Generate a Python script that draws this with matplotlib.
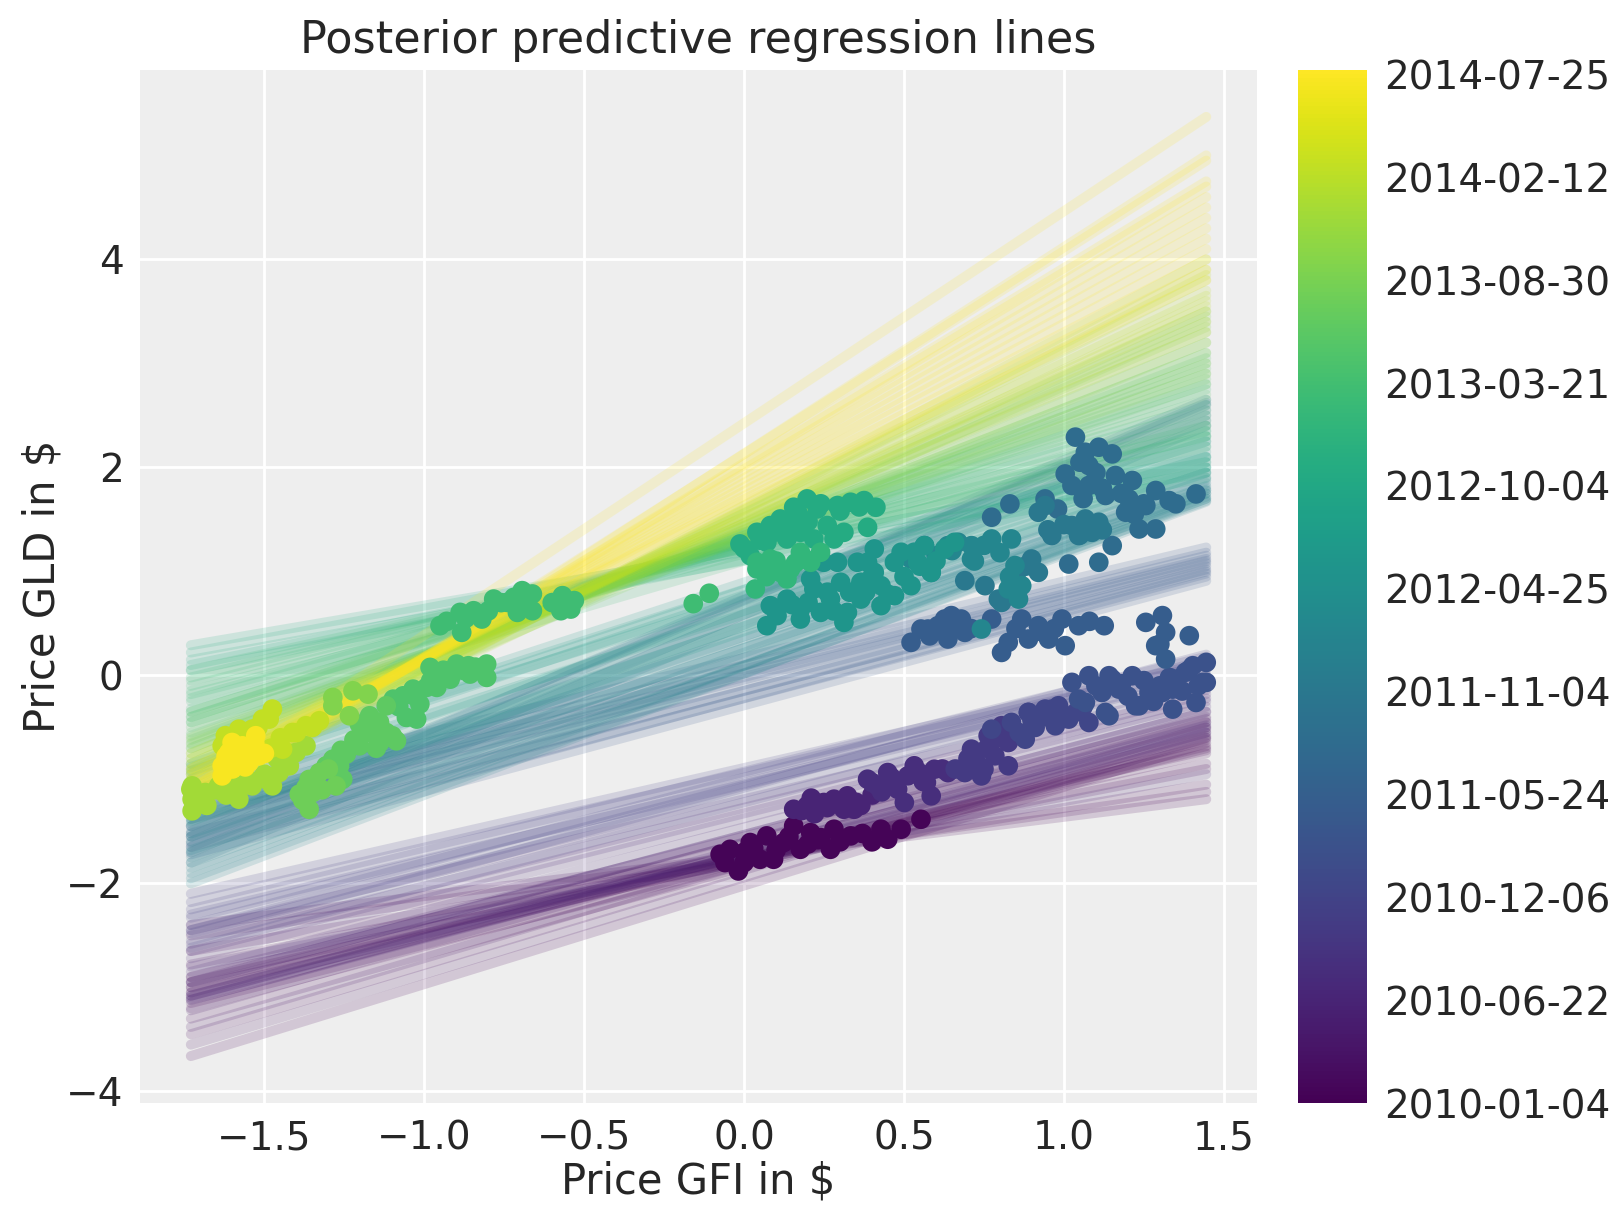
import matplotlib
matplotlib.use("Agg")
import matplotlib.pyplot as plt
import numpy as np

# scatter of the z-scored prices, grouped by stretch of time
# (when = position of the stretch between the first and last date, 0..1)
when = [0.01, 0.10, 0.13, 0.17, 0.21, 0.25, 0.29, 0.35, 0.40, 0.46, 0.52,
        0.61, 0.66, 0.69, 0.72, 0.75, 0.78, 0.81, 0.86, 0.91, 0.99]
gfi = [
    [-0.075, -0.018, -0.044, 0.019, 0.050, 0.092, 0.071, 0.124, 0.176, 0.208, 0.270, 0.281,
     0.155, 0.333, 0.428, 0.449, 0.553, 0.491, 0.000, 0.240,
     -0.06, 0.00, 0.03, 0.10, 0.14, 0.20, 0.23, 0.30, 0.37, 0.40],
    [0.155, 0.197, 0.249, 0.281, 0.323, 0.344, 0.312, 0.220, 0.365,
     0.18, 0.26, 0.30, 0.35, 0.40, 0.21],
    [0.386, 0.417, 0.449, 0.480, 0.512, 0.532, 0.585, 0.501, 0.595, 0.637, 0.560,
     0.40, 0.46, 0.55, 0.62, 0.57, 0.43],
    [0.690, 0.711, 0.742, 0.763, 0.784, 0.805, 0.826, 0.826, 0.660,
     0.70, 0.73, 0.76, 0.79, 0.81, 0.75, 0.72],
    [0.879, 0.889, 0.931, 0.973, 1.015, 1.078, 0.962, 0.774, 0.836, 0.889, 0.941, 0.983,
     0.86, 0.91, 0.95, 1.00, 1.04, 1.06, 0.90],
    [1.025, 1.067, 1.119, 1.151, 1.141, 1.214, 1.224, 1.266, 1.340, 1.350, 1.413, 1.445,
     1.434, 1.308, 1.078, 1.141, 1.172, 1.046, 1.403, 1.445, 1.340, 1.235, 1.130, 1.380,
     1.10, 1.18, 1.25, 1.30, 1.37, 1.42, 1.20, 1.28, 1.33, 1.39],
    [0.522, 0.553, 0.606, 0.648, 0.679, 0.637, 0.690, 0.774, 0.805, 0.826, 0.868, 0.889,
     0.920, 0.952, 0.994, 1.004, 1.046, 1.126, 1.256, 1.308, 1.318, 1.392, 1.287, 1.318,
     0.575, 0.627, 0.58, 0.66, 0.71, 0.85, 0.93, 0.97, 1.08, 1.30],
    [1.036, 1.067, 1.109, 1.151, 1.078, 1.004, 1.025, 1.078, 1.161, 1.214, 1.130, 1.203,
     1.287, 1.329, 1.413, 1.256, 1.287, 1.235, 1.193, 1.151, 1.109, 1.015, 0.831, 0.774,
     0.941, 1.05, 1.10, 1.12, 1.18, 1.25, 1.35, 1.22, 1.06, 0.98],
    [0.941, 0.920, 0.962, 1.025, 1.067, 1.109, 1.088, 1.046, 0.690, 0.753, 0.795, 0.805,
     0.899, 0.920, 0.95, 1.00, 1.05, 1.12, 0.85, 0.88],
    [0.564, 0.585, 0.522, 0.637, 0.669, 0.711, 0.711, 0.774, 0.836, 0.847, 0.826, 0.868,
     0.858, 0.742, 0.60, 0.65, 0.75, 0.80, 0.72, 0.83],
    [0.082, 0.103, 0.071, 0.134, 0.176, 0.176, 0.218, 0.239, 0.270, 0.302, 0.312, 0.323,
     0.365, 0.365, 0.407, 0.386, 0.428, 0.428, 0.470, 0.470, 0.292, 0.249, 0.208, 0.522,
     0.491, 0.532, 0.564, 0.585, 0.543, 0.627, 0.658, 0.354, 0.407,
     0.10, 0.15, 0.20, 0.26, 0.33, 0.38, 0.45, 0.50, 0.55, 0.60, 0.28, 0.40],
    [-0.013, 0.040, 0.082, 0.113, 0.155, 0.197, 0.229, 0.176, 0.134, 0.071, 0.019, 0.218,
     0.260, 0.292, 0.333, 0.375, 0.412, 0.386, 0.312, 0.281,
     0.00, 0.05, 0.10, 0.17, 0.24, 0.30, 0.36, 0.20, 0.14],
    [0.040, 0.082, 0.113, 0.145, 0.176, 0.208, 0.040, 0.035, 0.239, 0.134,
     0.06, 0.10, 0.16, 0.19, 0.07, 0.12],
    [-0.159, -0.109, -0.951, -0.888, -0.883, -0.846, -0.820, -0.783, -0.741, -0.709, -0.694,
     -0.662, -0.662, -0.568, -0.531, -0.573, -0.542,
     -0.93, -0.87, -0.80, -0.76, -0.72, -0.68, -0.60, -0.55],
    [-0.982, -0.951, -0.899, -0.862, -0.857, -0.805, -0.805, -0.919, -0.961, -0.993, -1.035,
     -1.014, -1.066, -1.097, -1.056, -1.024, -0.94, -0.88, -0.84, -0.98, -1.03, -1.08],
    [-1.119, -1.171, -1.203, -1.160, -1.119, -1.087, -1.139, -1.203, -1.244, -1.286, -1.307,
     -1.265, -1.255, -1.14, -1.18, -1.22, -1.26, -1.10, -1.15],
    [-1.339, -1.370, -1.349, -1.391, -1.276, -1.360, -1.328, -1.30, -1.36, -1.38, -1.32],
    [-1.286, -1.286, -1.223, -1.176, -1.234],
    [-1.475, -1.538, -1.580, -1.580, -1.643, -1.685, -1.726, -1.726, -1.726, -1.730, -1.496,
     -1.443, -1.422, -1.454, -1.401, -1.370,
     -1.70, -1.65, -1.60, -1.55, -1.50, -1.68, -1.62, -1.46],
    [-1.328, -1.370, -1.412, -1.443, -1.506, -1.538, -1.580, -1.622, -1.632, -1.485, -1.475,
     -1.35, -1.40, -1.45, -1.52, -1.57, -1.60, -1.48],
    [-1.559, -1.527, -1.601, -1.611, -1.632, -1.517, -1.548, -1.590, -1.632, -1.569, -1.560,
     -1.58, -1.54, -1.50, -1.56, -1.62, -1.60, -1.53],
]
gld = [
    [-1.720, -1.880, -1.672, -1.607, -1.768, -1.768, -1.543, -1.607, -1.672, -1.511, -1.672,
     -1.479, -1.447, -1.543, -1.479, -1.575, -1.383, -1.479, -1.800, -1.560,
     -1.80, -1.70, -1.66, -1.68, -1.55, -1.62, -1.58, -1.60, -1.52, -1.60],
    [-1.287, -1.254, -1.222, -1.190, -1.158, -1.287, -1.287, -1.330, -1.250,
     -1.30, -1.27, -1.24, -1.22, -1.15, -1.18],
    [-0.998, -1.062, -0.934, -1.094, -0.966, -0.869, -1.158, -1.222, -0.902, -0.934, -1.020,
     -1.03, -0.98, -0.94, -0.90, -1.03, -1.12],
    [-0.934, -0.709, -0.966, -0.580, -0.773, -0.484, -0.869, -0.645, -0.900,
     -0.80, -0.85, -0.70, -0.60, -0.55, -0.90, -0.75],
    [-0.613, -0.356, -0.388, -0.484, -0.420, -0.452, -0.324, -0.517, -0.452, -0.356, -0.324,
     -0.292, -0.55, -0.50, -0.40, -0.38, -0.35, -0.30, -0.43],
    [-0.067, -0.260, -0.164, -0.036, -0.388, -0.003, -0.292, -0.164, -0.324, -0.036, -0.260,
     0.125, -0.067, -0.164, -0.003, -0.003, -0.132, -0.228, 0.093, -0.067, -0.132, -0.292,
     -0.356, 0.030, -0.10, -0.08, -0.05, -0.10, -0.15, -0.10, -0.20, -0.25, -0.02, 0.05],
    [0.318, 0.446, 0.478, 0.575, 0.542, 0.350, 0.414, 0.542, 0.221, 0.318, 0.542, 0.350,
     0.478, 0.350, 0.542, 0.286, 0.478, 0.478, 0.510, 0.575, 0.414, 0.382, 0.286, 0.157,
     0.446, 0.542, 0.38, 0.48, 0.45, 0.45, 0.42, 0.45, 0.52, 0.30],
    [2.291, 2.146, 2.194, 2.130, 2.018, 1.937, 1.826, 1.826, 1.922, 1.874, 1.730, 1.697,
     1.778, 1.681, 1.745, 1.633, 1.408, 1.408, 1.569, 1.248, 1.088, 1.071, 1.649, 1.521,
     1.697, 2.05, 1.95, 1.80, 1.75, 1.65, 1.65, 1.55, 1.70, 1.60],
    [1.633, 1.569, 1.345, 1.441, 1.504, 1.473, 1.376, 1.345, 0.911, 0.863, 0.734, 0.702,
     1.119, 0.991, 1.40, 1.45, 1.35, 1.40, 0.95, 1.05],
    [1.248, 0.991, 1.119, 1.248, 1.280, 1.248, 1.119, 1.312, 1.312, 1.056, 0.831, 0.863,
     0.734, 0.446, 1.15, 1.20, 1.25, 1.18, 1.10, 0.95],
    [0.671, 0.575, 0.478, 0.734, 0.638, 0.542, 0.831, 0.606, 0.734, 0.895, 0.510, 0.606,
     0.734, 0.895, 0.991, 1.088, 0.863, 0.671, 0.767, 1.088, 1.088, 1.088, 0.927, 0.863,
     1.184, 1.184, 1.248, 0.991, 1.088, 1.216, 1.280, 1.088, 1.216,
     0.62, 0.68, 0.70, 0.80, 0.80, 0.80, 0.78, 0.95, 1.05, 1.10, 0.62, 0.95],
    [1.264, 1.376, 1.441, 1.504, 1.617, 1.697, 1.601, 1.376, 1.312, 1.280, 1.152, 1.312,
     1.441, 1.633, 1.665, 1.681, 1.617, 1.424, 1.376, 1.312,
     1.22, 1.30, 1.38, 1.55, 1.65, 1.58, 1.62, 1.48, 1.45],
    [1.088, 1.119, 0.991, 1.023, 1.184, 1.088, 1.023, 0.831, 1.184, 0.927,
     1.05, 1.10, 1.08, 1.12, 0.95, 1.00],
    [0.690, 0.790, 0.478, 0.606, 0.414, 0.622, 0.542, 0.734, 0.702, 0.606, 0.815, 0.783,
     0.622, 0.767, 0.719, 0.622, 0.638, 0.52, 0.55, 0.62, 0.70, 0.75, 0.70, 0.70, 0.68],
    [0.077, 0.029, 0.109, 0.093, 0.013, 0.109, -0.019, -0.036, -0.115, -0.115, -0.132,
     -0.276, -0.196, -0.228, -0.404, -0.420, 0.05, 0.05, 0.08, -0.05, -0.20, -0.30],
    [-0.292, -0.388, -0.469, -0.517, -0.549, -0.629, -0.645, -0.677, -0.757, -0.806, -0.869,
     -0.869, -0.998, -0.45, -0.55, -0.62, -0.72, -0.58, -0.70],
    [-0.998, -1.078, -1.126, -1.142, -1.062, -1.287, -0.934, -0.90, -1.00, -1.20, -1.10],
    [-0.212, -0.292, -0.148, -0.180, -0.388],
    [-1.062, -1.062, -1.094, -1.190, -1.062, -1.126, -1.062, -1.190, -1.302, -1.094, -0.998,
     -0.806, -0.869, -0.934, -0.741, -0.677,
     -1.15, -1.10, -1.05, -1.00, -0.95, -1.25, -1.15, -0.80],
    [-0.436, -0.484, -0.549, -0.709, -0.420, -0.517, -0.517, -0.580, -0.677, -0.420, -0.324,
     -0.50, -0.55, -0.60, -0.50, -0.55, -0.62, -0.70],
    [-0.757, -0.580, -0.645, -0.741, -0.966, -0.773, -0.837, -0.806, -0.869, -0.677, -0.700,
     -0.72, -0.70, -0.75, -0.88, -0.78, -0.90, -0.65],
]

# posterior regression lines, one bundle per time point:
# GLD value at the lowest GFI (line_lo) and at the highest GFI (line_hi)
line_when = [0.00, 0.05, 0.10, 0.18, 0.27, 0.35, 0.45, 0.55, 0.62, 0.68, 0.74, 0.82, 0.90, 1.00]
line_lo = [
    [-3.66, -3.45, -3.30, -3.15, -3.00, -2.90, -2.65, -2.50, -2.40, -3.20, -3.05, -2.95, -2.78],
    [-3.55, -3.38, -3.22, -3.10, -3.08, -3.05, -2.95, -3.12, -3.00, -2.90],
    [-2.85, -2.80, -2.72, -2.58, -2.45, -3.08, -3.12, -2.95, -2.65],
    [-2.62, -2.55, -2.48, -2.40, -2.33, -2.25, -2.18, -2.10, -2.30, -2.45],
    [-1.72, -1.62, -1.52, -1.45, -1.38, -1.30, -1.20, -1.10, -1.55, -1.35, -1.25, -1.65],
    [-1.80, -1.70, -1.60, -1.50, -1.45, -1.65, -1.55],
    [-1.95, -1.85, -1.75, -1.68, -1.60, -1.52, -1.45, -1.38, -1.30,
     -2.00, -1.90, -1.80, -1.70, -1.55, -1.42],
    [-1.40, -1.30, -1.20, -1.10, -1.00, -0.92, -0.85, -1.35, -1.15, -1.05, -0.95, -0.88],
    [0.29, 0.22, 0.15, 0.10, 0.05],
    [0.05, -0.02, -0.10, -0.18, -0.25, -0.32, -0.40, -0.45, -0.05, -0.15, -0.22, -0.35],
    [-0.35, -0.45, -0.55, -0.62, -0.70, -0.40, -0.50, -0.58, -0.66],
    [-0.60, -0.70, -0.80, -0.90, -0.95, -1.00, -0.65, -0.75, -0.85, -0.92],
    [-0.75, -0.85, -0.95, -1.05, -1.10, -1.15, -1.20, -0.80, -0.90, -1.00, -1.12],
    [-0.90, -1.00, -1.05, -1.10, -1.15, -1.20, -1.25, -1.30, -1.10,
     -0.95, -1.02, -1.08, -1.12, -1.18],
]
line_hi = [
    [-0.65, -0.55, -0.62, -0.70, -0.75, -0.85, -1.05, -1.12, -1.19, -0.60, -0.68, -0.72, -0.90],
    [-0.60, -0.50, -0.45, -0.58, -0.52, -0.40, -0.35, -0.50, -0.45, -0.42],
    [-0.30, -0.95, -0.25, -0.18, -0.14, -0.48, -0.55, -0.35, -0.22],
    [-0.05, 0.15, 0.00, 0.20, 0.05, 0.18, 0.10, 0.12, 0.00, 0.10],
    [0.91, 0.95, 1.00, 1.05, 1.08, 1.12, 1.18, 1.23, 1.02, 1.10, 1.15, 0.98],
    [2.40, 2.50, 2.60, 2.65, 2.55, 2.45, 2.62],
    [1.67, 1.72, 1.78, 1.70, 1.85, 1.75, 1.90, 1.80, 1.95,
     1.70, 1.75, 1.68, 1.82, 1.78, 1.88],
    [1.95, 2.05, 2.15, 2.00, 2.25, 2.10, 2.35, 2.00, 2.10, 2.20, 2.30, 2.25],
    [1.95, 2.05, 1.90, 2.10, 2.00],
    [2.20, 2.35, 2.45, 2.30, 2.60, 2.50, 2.75, 2.40, 2.30, 2.40, 2.55, 2.65],
    [2.70, 2.90, 2.80, 3.00, 3.10, 2.80, 2.85, 2.95, 3.05],
    [2.90, 3.10, 3.30, 3.20, 3.50, 3.40, 3.00, 3.20, 3.35, 3.45],
    [3.30, 3.50, 3.65, 3.80, 3.60, 3.90, 4.00, 3.40, 3.55, 3.70, 3.85],
    [3.80, 4.00, 4.20, 4.40, 4.60, 4.75, 4.95, 5.00, 5.37,
     3.90, 4.10, 4.30, 4.50, 4.70],
]

cbar_labels = ['2010-01-04', '2010-06-22', '2010-12-06', '2011-05-24', '2011-11-04',
               '2012-04-25', '2012-10-04', '2013-03-21', '2013-08-30', '2014-02-12',
               '2014-07-25']

text_col = '#262626'
plt.rcParams['font.family'] = ['DejaVu Sans']
plt.rcParams['text.color'] = text_col
plt.rcParams['axes.labelcolor'] = text_col
plt.rcParams['xtick.color'] = text_col
plt.rcParams['ytick.color'] = text_col

mymap = plt.get_cmap('viridis')

fig = plt.figure(figsize=(8.115, 6.115), dpi=200)
ax = fig.add_axes([0.0863, 0.0981, 0.6882, 0.8447])
cax = fig.add_axes([0.7998, 0.0981, 0.0425, 0.8447])

ax.set_facecolor('#eeeeee')
for s in ax.spines.values():
    s.set_visible(False)
ax.grid(True, color='white', linewidth=1.0)
ax.set_axisbelow(True)

all_x = np.concatenate([np.array(g) for g in gfi])
xi = np.array([all_x.min(), all_x.max()])

for t, lo, hi in zip(line_when, line_lo, line_hi):
    for a, b in zip(lo, hi):
        ax.plot(xi, [a, b], color=mymap(t), alpha=0.16, lw=3.6,
                solid_capstyle='round', zorder=2)

xs, ys, cs = [], [], []
for t, gx, gy in zip(when, gfi, gld):
    xs += gx
    ys += gy
    cs += [t] * len(gx)
sc = ax.scatter(xs, ys, c=cs, cmap=mymap, vmin=0, vmax=1, s=50, lw=0, zorder=3)

ax.set_xlabel(r'Price GFI in \$', fontsize=15, labelpad=1)
ax.set_ylabel(r'Price GLD in \$', fontsize=15, labelpad=1)
ax.set_title('Posterior predictive regression lines', fontsize=16)
ax.set_xticks([-1.5, -1.0, -0.5, 0.0, 0.5, 1.0, 1.5])
ax.set_yticks([-4, -2, 0, 2, 4])
ax.tick_params(length=0, labelsize=14, pad=6)

cb = fig.colorbar(sc, cax=cax, ticks=np.arange(11) * 115 / 1155)
cb.ax.set_yticklabels(cbar_labels)
cb.outline.set_visible(False)
cb.ax.tick_params(length=0, labelsize=14, pad=6)

fig.savefig('out.png', dpi=200)
